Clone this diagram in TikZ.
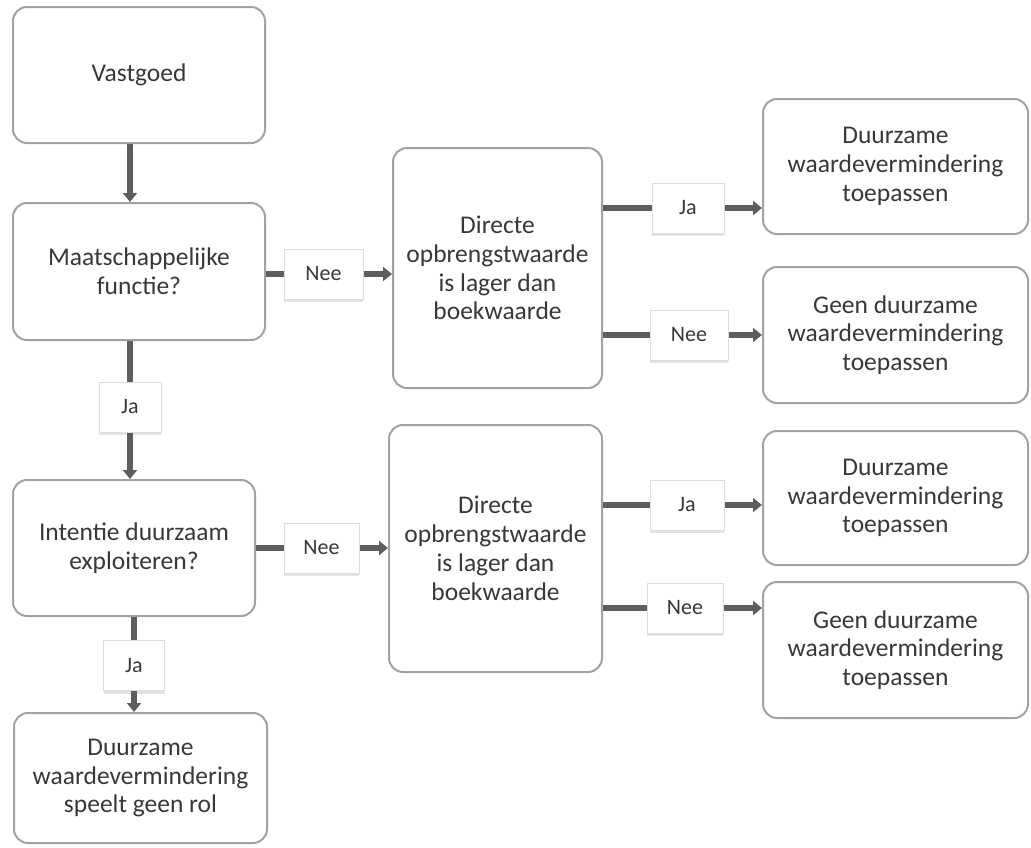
\documentclass[tikz,border=0pt]{standalone}
\usepackage{fontspec}
\setmainfont{Carlito}
\usetikzlibrary{arrows.meta,shadows}
\definecolor{boxline}{HTML}{A2A2A2}
\definecolor{txt}{HTML}{383838}
\definecolor{conncol}{HTML}{5E5E5E}
\definecolor{lblline}{HTML}{DDDDDD}
\begin{document}
\begin{tikzpicture}[x=1pt,y=-1pt,
  mainbox/.style={draw=boxline, line width=2pt, rounded corners=14pt, align=center,
    text=txt, font=\fontsize{25.5}{28.8}\selectfont, inner sep=0pt},
  lbl/.style={draw=lblline, line width=1pt, fill=white, text=txt,
    font=\fontsize{22}{24}\selectfont, inner sep=0pt, minimum height=50pt,
    drop shadow={shadow xshift=0pt, shadow yshift=-3pt, opacity=0.22, fill=gray}},
  conn/.style={draw=conncol, line width=5.5pt},
  arr/.style={conn, -{Triangle[length=9pt,width=14pt]}}
]
\fill[white] (0,0) rectangle (1031,847);
\useasboundingbox (0,0) rectangle (1031,847);

% left column
\node[mainbox, minimum width=252pt, minimum height=136pt] (vast) at (139,75) {Vastgoed};
\node[mainbox, minimum width=252pt, minimum height=137pt] (maat) at (139,271.5) {Maatschappelijke\\functie?};
\node[mainbox, minimum width=242pt, minimum height=136pt] (intent) at (134,548) {Intentie duurzaam\\exploiteren?};
\node[mainbox, minimum width=253pt, minimum height=130pt] (speelt) at (140.5,778) {Duurzame\\waardevermindering\\speelt geen rol};

% middle column
\node[mainbox, minimum width=209pt, minimum height=240pt] (dir1) at (497.5,268) {Directe\\opbrengstwaarde\\is lager dan\\boekwaarde};
\node[mainbox, minimum width=213pt, minimum height=247pt] (dir2) at (495.5,548.5) {Directe\\opbrengstwaarde\\is lager dan\\boekwaarde};

% right column
\node[mainbox, minimum width=265pt, minimum height=135pt] (d1) at (895.5,166.5) {Duurzame\\waardevermindering\\toepassen};
\node[mainbox, minimum width=265pt, minimum height=136pt] (g1) at (895.5,335) {Geen duurzame\\waardevermindering\\toepassen};
\node[mainbox, minimum width=265pt, minimum height=134pt] (d2) at (895.5,498) {Duurzame\\waardevermindering\\toepassen};
\node[mainbox, minimum width=265pt, minimum height=136pt] (g2) at (895.5,650) {Geen duurzame\\waardevermindering\\toepassen};

% labels
\node[lbl, minimum width=79pt] (nee1) at (323.5,274) {Nee};
\node[lbl, minimum width=62pt] (ja1) at (130,407) {Ja};
\node[lbl, minimum width=75pt] (nee2) at (321.5,548) {Nee};
\node[lbl, minimum width=61pt] (ja2) at (134,665.5) {Ja};
\node[lbl, minimum width=72pt] (ja3) at (688,208) {Ja};
\node[lbl, minimum width=78pt] (nee3) at (689,335) {Nee};
\node[lbl, minimum width=74pt] (ja4) at (687,505) {Ja};
\node[lbl, minimum width=76pt] (nee4) at (685,608) {Nee};

% connectors left column
\draw[arr] (ja1 |- vast.south) -- (ja1 |- maat.north);
\draw[conn] (ja1 |- maat.south) -- (ja1.north);
\draw[arr] (ja1.south) -- (ja1 |- intent.north);
\draw[conn] (ja2 |- intent.south) -- (ja2.north);
\draw[arr] (ja2.south) -- (ja2 |- speelt.north);

% to middle column
\draw[conn] (maat.east |- nee1) -- (nee1.west);
\draw[arr] (nee1.east) -- (nee1.east -| dir1.west);
\draw[conn] (intent.east |- nee2) -- (nee2.west);
\draw[arr] (nee2.east) -- (nee2.east -| dir2.west);

% to right column
\draw[conn] (dir1.east |- ja3) -- (ja3.west);
\draw[arr] (ja3.east) -- (ja3.east -| d1.west);
\draw[conn] (dir1.east |- nee3) -- (nee3.west);
\draw[arr] (nee3.east) -- (nee3.east -| g1.west);
\draw[conn] (dir2.east |- ja4) -- (ja4.west);
\draw[arr] (ja4.east) -- (ja4.east -| d2.west);
\draw[conn] (dir2.east |- nee4) -- (nee4.west);
\draw[arr] (nee4.east) -- (nee4.east -| g2.west);
\end{tikzpicture}
\end{document}
